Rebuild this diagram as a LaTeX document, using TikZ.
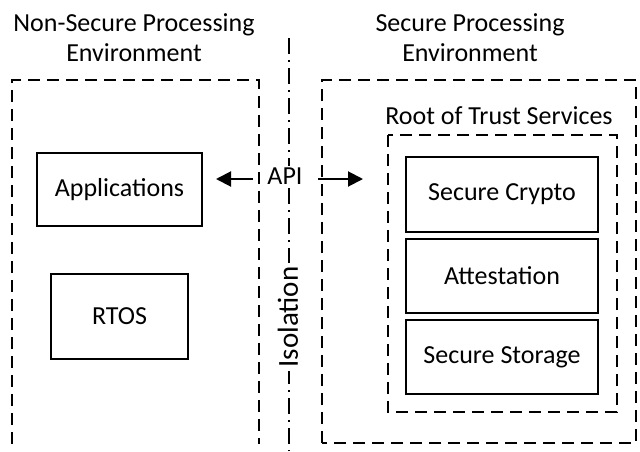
\documentclass[tikz,border=0pt]{standalone}
\usepackage{fontspec}
\setmainfont{Carlito}
\usetikzlibrary{arrows.meta}
\begin{document}
\begin{tikzpicture}[x=1pt,y=-1pt,
  dbox/.style={draw,line width=2.2pt,dash pattern=on 12pt off 7pt},
  sbox/.style={draw,line width=1.8pt,minimum width=#1,inner sep=0pt},
  lbl/.style={font=\fontsize{26}{30}\selectfont},
  arr/.style={line width=2pt,-{Triangle[length=15pt,width=15pt]}}]
\useasboundingbox (0,0) rectangle (640,451);
% titles
\node[lbl,align=center] (nst) at (134,38) {Non-Secure Processing\\Environment};
\node[lbl,align=center] (st) at (470,38) {Secure Processing\\Environment};
% outer boxes
\draw[dbox] (12,444) -- (12,80) -- (259,80) -- (259,444);
\draw[dbox] (322,443) -- (322,80) -- (636,80) -- (636,443) -- cycle;
\node[lbl] (rot) at (499,116) {Root of Trust Services};
\draw[dbox] (388,135) rectangle (617,412);
% isolation line
\draw[line width=1.8pt,dash pattern=on 16pt off 6pt on 2pt off 6pt] (289,38) -- (289,451);
\node[rotate=90,fill=white,inner sep=4pt,font=\fontsize{29}{34}\selectfont] (iso) at (288,317) {Isolation};
% boxes
\node[sbox=165pt,minimum height=73pt,lbl] (app) at (119.5,189.5) {Applications};
\node[sbox=137pt,minimum height=85pt,lbl] (rtos) at (119.5,316.5) {RTOS};
\node[sbox=192pt,minimum height=75pt,lbl] (crypto) at (502,194.5) {Secure Crypto};
\node[sbox=192pt,minimum height=74pt,lbl] (att) at (502,276) {Attestation};
\node[sbox=192pt,minimum height=74pt,lbl] (stor) at (502,357) {Secure Storage};
% API
\node[lbl,fill=white,inner sep=2pt] (api) at (285,176) {API};
\coordinate (la) at (216,179);
\coordinate (ra) at (363,179);
\draw[arr] (253,179) -- (la);
\draw[arr] (318,179) -- (ra);
\end{tikzpicture}
\end{document}
